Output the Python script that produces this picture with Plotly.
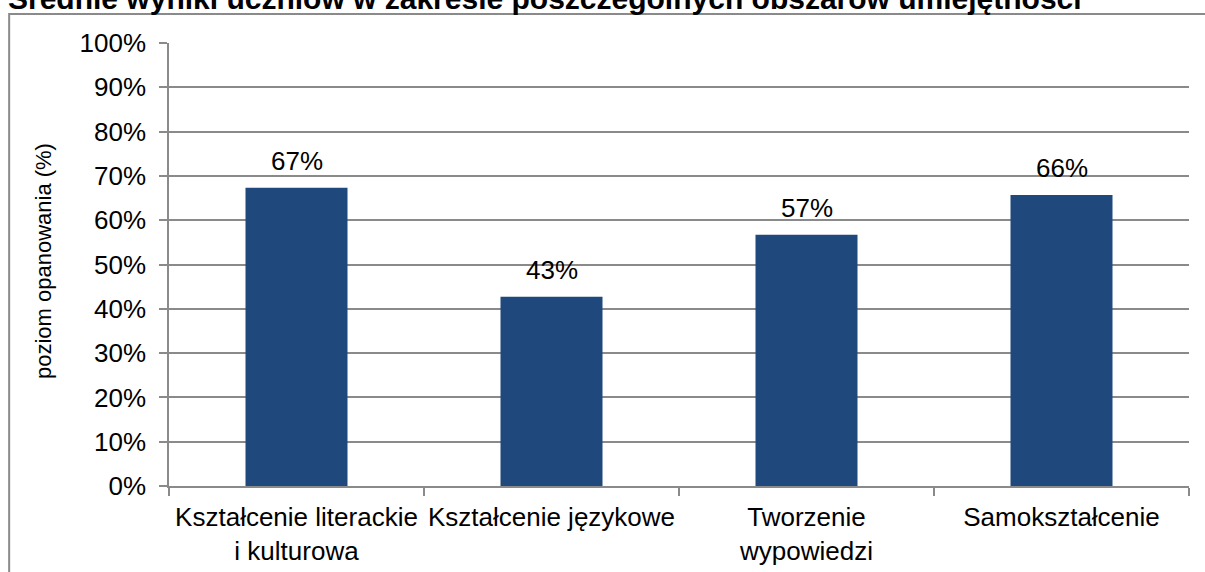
import plotly.graph_objects as go

categories = ["Kształcenie literackie<br>i kulturowa", "Kształcenie językowe",
              "Tworzenie<br>wypowiedzi", "Samokształcenie"]
values = [67.3, 42.7, 56.7, 65.7]
labels = [f"{round(v)}%" for v in values]
tick_vals = list(range(0, 101, 10))
tick_text = [f"{t}%" for t in tick_vals]

title_text = "Średnie wyniki uczniów w zakresie poszczególnych obszarów umiejętności"
y_title = "poziom opanowania (%)"

FONT = "Liberation Sans, Arial, sans-serif"
GRID = "#8a8a8a"

fig = go.Figure()
fig.add_trace(go.Bar(
    x=categories, y=values, width=0.4,
    marker=dict(color="#1F497D", line=dict(width=0)),
    hoverinfo="skip",
))

for c, v, t in zip(categories, values, labels):
    fig.add_annotation(x=c, y=v, text=t, showarrow=False, xref="x", yref="y",
                       yanchor="middle", yshift=27,
                       font=dict(family=FONT, size=26, color="#000"))

fig.add_annotation(xref="paper", yref="paper", x=(44 - 169) / 1021, y=0.508,
                   text=y_title, textangle=-90, showarrow=False,
                   xanchor="center", yanchor="middle",
                   font=dict(family=FONT, size=22, color="#000"))

# chart title (partially clipped at the top, as in the reference)
fig.add_annotation(xref="paper", yref="paper", x=(6 - 169) / 1021,
                   y=1 + 44 / 443, text=f"<b>{title_text}</b>",
                   showarrow=False, xanchor="left", yanchor="middle",
                   font=dict(family=FONT, size=30, color="#000"))

fig.add_shape(type="rect", xref="paper", yref="paper",
              x0=(9 - 169) / 1021, x1=1.2, y0=-0.6, y1=1 + (43 - 14) / 443,
              line=dict(color="#8a8a8a", width=2), fillcolor="rgba(0,0,0,0)",
              layer="below")

fig.update_layout(
    width=1205, height=572,
    margin=dict(l=169, r=16, t=43, b=86, autoexpand=False),
    paper_bgcolor="white", plot_bgcolor="white",
    showlegend=False,
    bargap=0.6,
)
fig.update_xaxes(
    type="category", showline=True, linecolor=GRID, linewidth=1.5,
    ticks="outside", tickson="boundaries", ticklen=8, tickcolor=GRID, tickwidth=1.5,
    showgrid=False, ticklabelstandoff=7, tickangle=0,
    tickfont=dict(family=FONT, size=26, color="#000"),
)
fig.update_yaxes(
    range=[0, 100], tickvals=tick_vals, ticktext=tick_text,
    showline=True, linecolor=GRID, linewidth=1.5,
    ticks="outside", ticklen=8, tickcolor=GRID, tickwidth=1.5,
    showgrid=True, gridcolor=GRID, gridwidth=1.5, zeroline=False,
    ticklabelstandoff=8,
    tickfont=dict(family=FONT, size=26, color="#000"),
)

fig.write_html("out.html", config={"displayModeBar": False},
               post_script="document.body.style.margin='0';document.body.style.overflow='hidden';")
